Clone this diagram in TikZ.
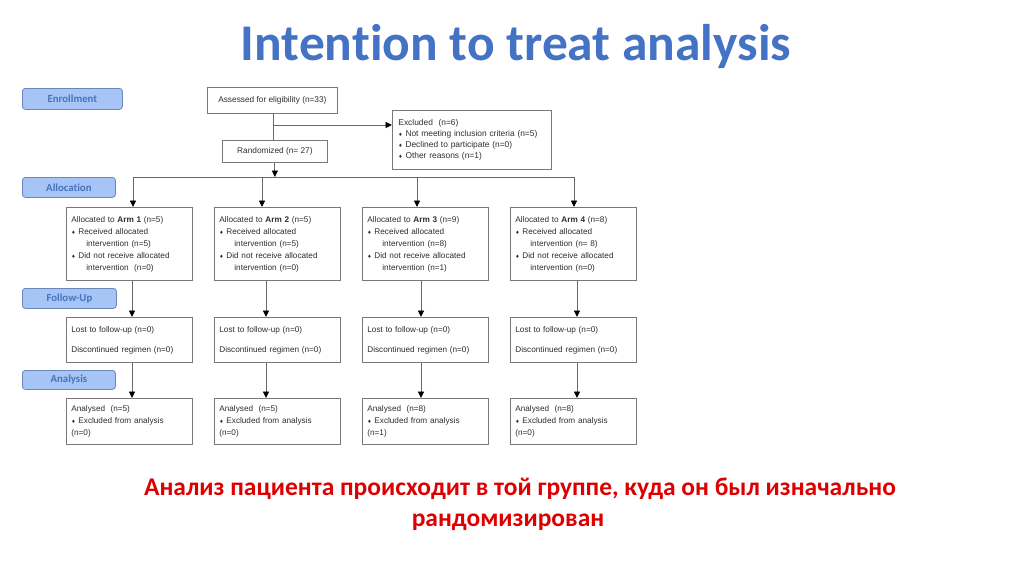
\documentclass[tikz,border=0pt]{standalone}
\usepackage{fontspec}
\setmainfont{Liberation Sans}
\newfontfamily\carlito[Ligatures={NoCommon,NoContextual}]{Carlito}
\newfontfamily\dejavu{DejaVu Sans}
\usetikzlibrary{arrows.meta,calc}
\definecolor{titleblue}{RGB}{68,114,196}
\definecolor{labfill}{RGB}{166,196,245}
\definecolor{labdraw}{RGB}{105,135,185}
\definecolor{labtext}{RGB}{70,115,190}
\definecolor{linegray}{RGB}{105,105,105}
\definecolor{boxgray}{RGB}{120,120,120}
\definecolor{txtgray}{RGB}{45,45,45}
\definecolor{redtxt}{RGB}{222,0,0}
\newcommand\dm{{\dejavu\fontsize{4.8}{5}\selectfont ♦}}
\newcommand\ind{\hspace*{15pt}}
\begin{document}
\begin{tikzpicture}[x=1pt,y=-1pt,
  stagelab/.style={draw=labdraw, fill=labfill, rounded corners=3pt, line width=0.8pt, anchor=north west, inner sep=0pt, font=\carlito\fontsize{10.8}{12}\selectfont\bfseries, text=labtext},
  flowbox/.style={draw=boxgray, line width=0.8pt, anchor=north west, inner sep=0pt, text=txtgray},
  armbox/.style={flowbox, minimum width=126pt, minimum height=73pt, text width=116pt, align=left, font=\fontsize{8.2}{12}\selectfont},
  fubox/.style={flowbox, minimum width=126pt, minimum height=45pt, text width=116pt, align=left, font=\fontsize{8.2}{20}\selectfont},
  anbox/.style={flowbox, minimum width=126pt, minimum height=46pt, text width=116pt, align=left, font=\fontsize{8.2}{12}\selectfont},
  conn/.style={draw=linegray, line width=0.9pt},
  arr/.style={conn, -{Triangle[length=6.5pt,width=6pt,color=black]}}
]
\useasboundingbox (0,0) rectangle (1024,574);

% title
\node[font=\carlito\bfseries\fontsize{51.5}{60}\selectfont, text=titleblue, anchor=base, inner sep=0pt] (title) at (516,60) {Intention to treat analysis};

% stage labels
\node[stagelab, minimum width=100pt, minimum height=21pt] (lenr) at (22,88) {Enrollment};
\node[stagelab, minimum width=93pt, minimum height=20pt] (lall) at (22,177) {Allocation};
\node[stagelab, minimum width=94pt, minimum height=20pt] (lfu) at (22,288) {Follow-Up};
\node[stagelab, minimum width=93pt, minimum height=19pt] (lan) at (22,370) {Analysis};

% enrollment
\node[flowbox, minimum width=130pt, minimum height=26pt, font=\fontsize{8.3}{9}\selectfont] (assess) at (207,87) {Assessed for eligibility (n=33)};
\node[flowbox, minimum width=105pt, minimum height=22pt, font=\fontsize{8.3}{9}\selectfont] (rand) at (222,140) {Randomized (n= 27)};
\node[flowbox, minimum width=159pt, minimum height=59pt, text width=147pt, align=left, font=\fontsize{8.4}{11}\selectfont] (excl) at (392,110)
  {Excluded\ \ (n=6)\\ \dm\ Not meeting inclusion criteria (n=5)\\ \dm\ Declined to participate (n=0)\\ \dm\ Other reasons (n=1)};

\coordinate (split) at (273,125);
\draw[conn] (assess.south -| split) -- (split |- rand.north);
\draw[arr] (split) -- (split -| excl.west);

% allocation
\node[armbox] (arm1) at (66,207) {Allocated to \textbf{Arm 1} (n=5)\\ \dm\ Received allocated\\ \ind intervention (n=5)\\ \dm\ Did not receive allocated\\ \ind intervention\ \ (n=0)};
\node[armbox] (arm2) at (214,207) {Allocated to \textbf{Arm 2} (n=5)\\ \dm\ Received allocated\\ \ind intervention (n=5)\\ \dm\ Did not receive allocated\\ \ind intervention (n=0)};
\node[armbox] (arm3) at (362,207) {Allocated to \textbf{Arm 3} (n=9)\\ \dm\ Received allocated\\ \ind intervention (n=8)\\ \dm\ Did not receive allocated\\ \ind intervention (n=1)};
\node[armbox] (arm4) at (510,207) {Allocated to \textbf{Arm 4} (n=8)\\ \dm\ Received allocated\\ \ind intervention (n= 8)\\ \dm\ Did not receive allocated\\ \ind intervention (n=0)};

\coordinate (b1) at (133,177);
\coordinate (b2) at (262,177);
\coordinate (b3) at (417,177);
\coordinate (b4) at (574,177);
\draw[conn] (b1) -- (b4);
\draw[arr] (rand.south) -- (rand.south |- b1);
\draw[arr] (b1) -- (b1 |- arm1.north);
\draw[arr] (b2) -- (b2 |- arm2.north);
\draw[arr] (b3) -- (b3 |- arm3.north);
\draw[arr] (b4) -- (b4 |- arm4.north);

% follow-up
\node[fubox] (fu1) at (66,317) {Lost to follow-up (n=0)\\ Discontinued regimen (n=0)};
\node[fubox] (fu2) at (214,317) {Lost to follow-up (n=0)\\ Discontinued regimen (n=0)};
\node[fubox] (fu3) at (362,317) {Lost to follow-up (n=0)\\ Discontinued regimen (n=0)};
\node[fubox] (fu4) at (510,317) {Lost to follow-up (n=0)\\ Discontinued regimen (n=0)};

% analysis
\node[anbox] (an1) at (66,398) {Analysed\ \ (n=5)\\ \dm\ Excluded from analysis\\ (n=0)};
\node[anbox] (an2) at (214,398) {Analysed\ \ (n=5)\\ \dm\ Excluded from analysis\\ (n=0)};
\node[anbox] (an3) at (362,398) {Analysed\ \ (n=8)\\ \dm\ Excluded from analysis\\ (n=1)};
\node[anbox] (an4) at (510,398) {Analysed\ \ (n=8)\\ \dm\ Excluded from analysis\\ (n=0)};

\coordinate (d1) at (132,0);
\coordinate (d2) at (266,0);
\coordinate (d3) at (421,0);
\coordinate (d4) at (577,0);
\foreach \i in {1,2,3,4} {
  \draw[arr] (d\i |- arm\i.south) -- (d\i |- fu\i.north);
  \draw[arr] (d\i |- fu\i.south) -- (d\i |- an\i.north);
}

% bottom note
\node[font=\carlito\bfseries\fontsize{25.5}{30}\selectfont, text=redtxt, anchor=base, inner sep=0pt] (note1) at (520,495) {Анализ пациента происходит в той группе, куда он был изначально};
\node[font=\carlito\bfseries\fontsize{25.5}{30}\selectfont, text=redtxt, anchor=base, inner sep=0pt] (note2) at (508,526) {рандомизирован};
\end{tikzpicture}
\end{document}
